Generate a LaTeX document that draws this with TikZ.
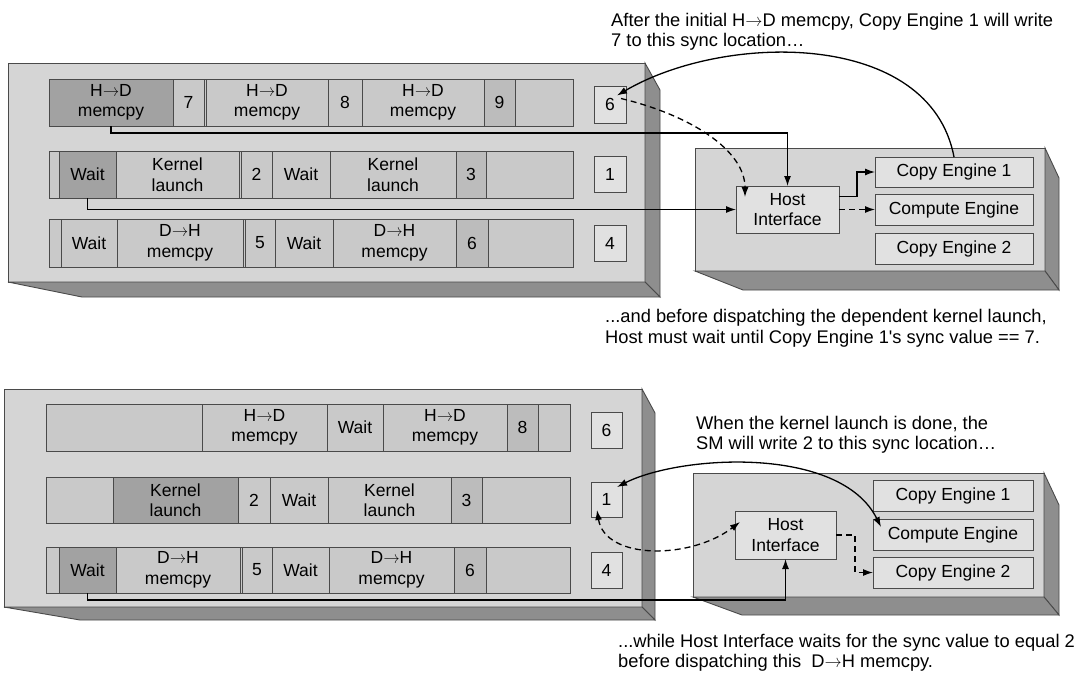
\documentclass[tikz,border=0pt]{standalone}
\usepackage{fontspec}
\setmainfont{Liberation Sans}[Ligatures=TeXOff]
\newfontfamily\arrfont{Latin Modern Roman}
\newcommand\ra{{\arrfont →}}
\usetikzlibrary{arrows.meta,calc}
\definecolor{pface}{HTML}{D5D5D5}
\definecolor{pside}{HTML}{8E8E8E}
\definecolor{cfill}{HTML}{C9C9C9}
\definecolor{cdark}{HTML}{A2A2A2}
\definecolor{cnum}{HTML}{BCBCBC}
\definecolor{sfill}{HTML}{E1E1E1}
\definecolor{efill}{HTML}{E1E1E1}
\definecolor{edgec}{HTML}{4A4A4A}
\newcommand\cellfont{\fontsize{17.5}{20.5}\selectfont}
\newcommand\notefont{\fontsize{18.3}{21}\selectfont}
\newcommand\bx[7]{\node[#6, minimum width={(#4)-(#2)}, minimum height={(#5)-(#3)}] (#1) at ({((#2)+(#4))/2},{((#3)+(#5))/2}) {#7};}
\tikzset{
 pfront/.style={fill=pface, draw=edgec, line width=0.9pt},
 pdepth/.style={fill=pside, draw=edgec, line width=0.9pt},
 cellbox/.style={draw=edgec, fill=cfill, line width=0.9pt, inner sep=0pt, outer sep=0pt, align=center, font=\cellfont},
 darkbox/.style={cellbox, fill=cdark},
 numbox/.style={cellbox, fill=cnum},
 rowbox/.style={draw=edgec, fill=cfill, line width=0.9pt},
 syncbox/.style={cellbox, fill=sfill},
 engbox/.style={cellbox, fill=efill},
 tip/.tip={Latex[length=10pt,width=7pt]},
 conn/.style={draw=black, line width=1.3pt, -tip},
 biconn/.style={draw=black, line width=1.3pt, tip-tip},
 dashpat/.style={dash pattern=on 6pt off 4pt},
 note/.style={anchor=base west, inner sep=0pt, font=\notefont},
}
\begin{document}
\begin{tikzpicture}[x=1pt,y=-1pt]
\fill[white] (0,0) rectangle (1081,673);
\useasboundingbox (0,0) rectangle (1081,673);

% ---------- top-left panel ----------
\draw[pfront] (8,63) rectangle (645,282);
\draw[pdepth] (645,63) -- (660,90) -- (660,297) -- (645,282) -- cycle;
\draw[pdepth] (8,282) -- (645,282) -- (660,297) -- (82,297) -- cycle;
\draw[rowbox] (49,79) rectangle (573,126);
\draw[rowbox] (49,151) rectangle (573,198);
\draw[rowbox] (49,219) rectangle (573,267);
\bx{ta1}{49}{79}{173}{126}{darkbox}{H\ra D\\memcpy}
\bx{ta2}{173}{79}{204}{126}{cellbox}{7}
\bx{ta3}{206}{79}{328}{126}{cellbox}{H\ra D\\memcpy}
\bx{ta4}{328}{79}{362}{126}{cellbox}{8}
\bx{ta5}{362}{79}{484}{126}{cellbox}{H\ra D\\memcpy}
\bx{ta6}{484}{79}{515}{126}{numbox}{9}
\bx{ta7}{515}{79}{573}{126}{cellbox}{}
\bx{tb1}{49}{151}{59}{198}{cellbox}{}
\bx{tb2}{59}{151}{116}{198}{darkbox}{Wait}
\bx{tb3}{116}{151}{239}{198}{cellbox}{Kernel\\launch}
\bx{tb4}{241}{151}{272}{198}{cellbox}{2}
\bx{tb5}{272}{151}{330}{198}{cellbox}{Wait}
\bx{tb6}{330}{151}{456}{198}{cellbox}{Kernel\\launch}
\bx{tb7}{456}{151}{486}{198}{numbox}{3}
\bx{tb8}{486}{151}{573}{198}{cellbox}{}
\bx{tc1}{49}{219}{61}{267}{cellbox}{}
\bx{tc2}{61}{219}{117}{267}{cellbox}{Wait}
\bx{tc3}{117}{219}{243}{267}{cellbox}{D\ra H\\memcpy}
\bx{tc4}{245}{219}{275}{267}{cellbox}{5}
\bx{tc5}{275}{219}{333}{267}{cellbox}{Wait}
\bx{tc6}{333}{219}{456}{267}{cellbox}{D\ra H\\memcpy}
\bx{tc7}{456}{219}{488}{267}{numbox}{6}
\bx{tc8}{488}{219}{573}{267}{cellbox}{}
\bx{ts6}{594}{86}{626}{123}{syncbox}{6}
\bx{ts1}{594}{156}{626}{192}{syncbox}{1}
\bx{ts4}{594}{225}{626}{261}{syncbox}{4}

% ---------- top-right panel ----------
\draw[pfront] (695,148) rectangle (1045,271);
\draw[pdepth] (1045,148) -- (1059,178) -- (1059,290) -- (1045,271) -- cycle;
\draw[pdepth] (695,271) -- (1045,271) -- (1059,290) -- (743,290) -- cycle;
\bx{thi}{736}{186}{839}{233}{engbox}{Host\\Interface}
\bx{tce1}{875}{157}{1033}{187}{engbox}{Copy Engine 1}
\bx{tcmp}{875}{194}{1033}{225}{engbox}{Compute Engine}
\bx{tce2}{875}{233}{1033}{264}{engbox}{Copy Engine 2}

% ---------- bottom-left panel ----------
\draw[pfront] (4,389) rectangle (642,607);
\draw[pdepth] (642,389) -- (655,413) -- (655,620) -- (642,607) -- cycle;
\draw[pdepth] (4,607) -- (642,607) -- (655,620) -- (80,620) -- cycle;
\draw[rowbox] (46,404) rectangle (570,451);
\draw[rowbox] (46,477) rectangle (570,523);
\draw[rowbox] (46,547) rectangle (570,593);
\bx{ba1}{46}{404}{202}{451}{cellbox}{}
\bx{ba2}{202}{404}{327}{451}{cellbox}{H\ra D\\memcpy}
\bx{ba3}{327}{404}{383}{451}{cellbox}{Wait}
\bx{ba4}{383}{404}{507}{451}{cellbox}{H\ra D\\memcpy}
\bx{ba5}{507}{404}{538}{451}{numbox}{8}
\bx{ba6}{538}{404}{570}{451}{cellbox}{}
\bx{bb1}{46}{477}{113}{523}{cellbox}{}
\bx{bb2}{113}{477}{238}{523}{darkbox}{Kernel\\launch}
\bx{bb3}{238}{477}{270}{523}{cellbox}{2}
\bx{bb4}{270}{477}{328}{523}{cellbox}{Wait}
\bx{bb5}{328}{477}{451}{523}{cellbox}{Kernel\\launch}
\bx{bb6}{451}{477}{482}{523}{numbox}{3}
\bx{bb7}{482}{477}{570}{523}{cellbox}{}
\bx{bc1}{46}{547}{59}{593}{cellbox}{}
\bx{bc2}{59}{547}{116}{593}{darkbox}{Wait}
\bx{bc3}{116}{547}{240}{593}{cellbox}{D\ra H\\memcpy}
\bx{bc4}{242}{547}{272}{593}{cellbox}{5}
\bx{bc5}{272}{547}{329}{593}{cellbox}{Wait}
\bx{bc6}{329}{547}{454}{593}{cellbox}{D\ra H\\memcpy}
\bx{bc7}{454}{547}{486}{593}{numbox}{6}
\bx{bc8}{486}{547}{570}{593}{cellbox}{}
\bx{bs6}{591}{412}{622}{448}{syncbox}{6}
\bx{bs1}{591}{482}{622}{517}{syncbox}{1}
\bx{bs4}{591}{552}{622}{588}{syncbox}{4}

% ---------- bottom-right panel ----------
\draw[pfront] (693,473) rectangle (1044,597);
\draw[pdepth] (1044,473) -- (1059,505) -- (1059,615) -- (1044,597) -- cycle;
\draw[pdepth] (693,597) -- (1044,597) -- (1059,615) -- (742,615) -- cycle;
\bx{bhi}{735}{511}{836}{559}{engbox}{Host\\Interface}
\bx{bce1}{873}{480}{1033}{511}{engbox}{Copy Engine 1}
\bx{bcmp}{873}{519}{1033}{550}{engbox}{Compute Engine}
\bx{bce2}{873}{557}{1033}{588}{engbox}{Copy Engine 2}

% ---------- top connectors ----------
\draw[conn] (ta1.south) -- ++(0,7) -| (thi.north);
\draw[conn] (tb2.south) |- (thi.west);
\draw[conn] ($(thi.east)+(0,-13)$) -- ++(18,0) |- (tce1.west);
\draw[conn, dashpat] (thi.east) -- (tcmp.west);
\draw[conn] (tce1.north) .. controls (930,30) and (725,32) .. ($(ts6.center)+(7,-9)$);
\draw[conn, dashpat] ($(ts6.center)+(11,-6)$) .. controls (690,115) and (745,150) .. ($(thi.north west)+(9,11)$);

% ---------- bottom connectors ----------
\draw[biconn] ($(bs1.center)+(10.5,-12.5)$) .. controls (680,455) and (840,445) .. ($(bcmp.north west)+(8,8)$);
\draw[biconn, dashpat] ($(bs1.center)+(-9.5,10.5)$) .. controls (605,560) and (690,560) .. ($(bhi.west)+(5,-13)$);
\draw[conn, dashpat] (bhi.east) -- ++(19,0) |- (bce2.west);
\draw[conn] (bc2.south) -- ++(0,7) -| (bhi.south);

% ---------- notes ----------
\node[note] (n1a) at (611,26) {After the initial H\ra D memcpy, Copy Engine 1 will write};
\node[note] (n1b) at (611,46) {7 to this sync location…};
\node[note] (n2a) at (605,322) {...and before dispatching the dependent kernel launch,};
\node[note] (n2b) at (605,343) {Host must wait until Copy Engine 1's sync value == 7.};
\node[note] (n3a) at (696,429) {When the kernel launch is done, the};
\node[note] (n3b) at (696,449) {SM will write 2 to this sync location…};
\node[note] (n4a) at (618,647) {...while Host Interface waits for the sync value to equal 2};
\node[note] (n4b) at (618,667) {before dispatching this\ \ D\ra H memcpy.};
\end{tikzpicture}
\end{document}
